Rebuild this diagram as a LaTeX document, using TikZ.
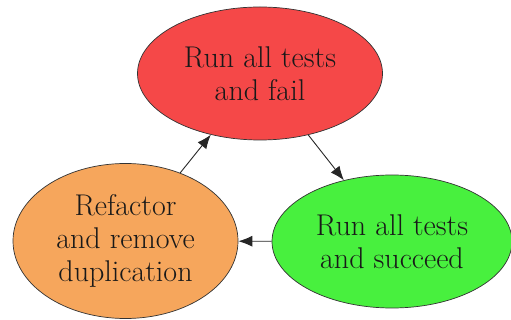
\documentclass[tikz,border=0pt]{standalone}
\usetikzlibrary{shapes.geometric,arrows.meta}
\definecolor{redfill}{RGB}{245,72,72}
\definecolor{orangefill}{RGB}{246,166,92}
\definecolor{greenfill}{RGB}{72,240,62}
\tikzset{
  state/.style={ellipse, draw=black!80, line width=0.7pt, inner sep=0pt, align=center,
    font=\fontsize{30}{33}\selectfont, text=black!90},
  edge/.style={draw=black!85, line width=0.9pt, -{Latex[length=14pt,width=11pt]}}
}
\begin{document}
\begin{tikzpicture}[x=1pt,y=-1pt]
\useasboundingbox (0,0) rectangle (511,320);
\node[state, fill=redfill, minimum width=245pt, minimum height=133pt] (fail) at (260,73.5) {Run all tests\\and fail};
\node[state, fill=greenfill, minimum width=240pt, minimum height=133pt] (succ) at (392,241.5) {Run all tests\\and succeed};
\node[state, fill=orangefill, minimum width=225pt, minimum height=155pt] (ref) at (125.5,241) {Refactor\\and remove\\duplication};
\draw[edge] (fail) -- (succ);
\draw[edge] (succ) -- (ref);
\draw[edge] (ref) -- (fail);
\end{tikzpicture}
\end{document}
